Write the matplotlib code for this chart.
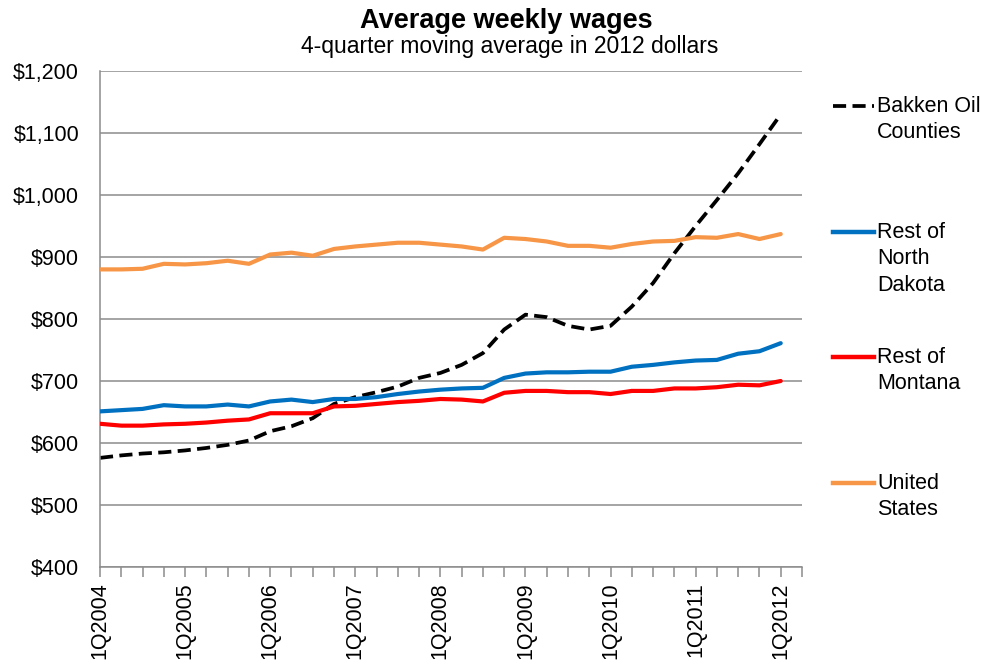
import matplotlib.pyplot as plt
from matplotlib.lines import Line2D
from matplotlib.ticker import FuncFormatter

plt.rcParams['font.family'] = ['Liberation Sans', 'DejaVu Sans']

# quarterly data, 1Q2004 .. 1Q2012
years = list(range(2004, 2013))
quarters = [f'{q}Q{y}' for y in years for q in range(1, 5)][:33]

bakken = [576, 580, 583, 585, 588, 592, 597, 604, 619, 627, 640, 663, 674, 682, 691, 705, 713,
          726, 745, 783, 807, 803, 789, 783, 789, 820, 858, 906, 950, 992, 1035, 1082, 1130]
rest_nd = [651, 653, 655, 661, 659, 659, 662, 659, 667, 670, 666, 671, 671, 674, 679, 683, 686,
           688, 689, 705, 712, 714, 714, 715, 715, 723, 726, 730, 733, 734, 744, 748, 761]
rest_mt = [631, 628, 628, 630, 631, 633, 636, 638, 648, 648, 648, 659, 660, 663, 666, 668, 671,
           670, 667, 681, 684, 684, 682, 682, 679, 684, 684, 688, 688, 690, 694, 693, 700]
us = [880, 880, 881, 889, 888, 890, 894, 889, 904, 907, 902, 913, 917, 920, 923, 923, 920,
      917, 912, 931, 929, 925, 918, 918, 915, 921, 925, 926, 932, 931, 937, 929, 937]

series_names = ['Bakken Oil\nCounties', 'Rest of\nNorth\nDakota', 'Rest of\nMontana', 'United\nStates']
series_colors = ['black', '#0070C0', '#FF0000', '#F79646']

W, H = 992, 665
fig = plt.figure(figsize=(W / 100, H / 100), dpi=100)
ax = fig.add_axes([100 / W, 1 - 567 / H, 702 / W, 496 / H])

x = list(range(len(quarters)))
ax.plot(x, bakken, color='black', lw=2.7, dashes=(3.5, 1.7), zorder=2)
ax.plot(x, rest_nd, color=series_colors[1], lw=3, solid_capstyle='round', zorder=3)
ax.plot(x, rest_mt, color=series_colors[2], lw=3, solid_capstyle='round', zorder=3)
ax.plot(x, us, color=series_colors[3], lw=3, solid_capstyle='round', zorder=3)

ax.set_xlim(0, 33)
ax.set_ylim(400, 1200)
ax.set_yticks(range(400, 1201, 100))
ax.yaxis.set_major_formatter(FuncFormatter(lambda v, p: f'${v:,.0f}'))
ax.grid(axis='y', color='#8c8c8c', lw=1.1)
ax.set_axisbelow(True)

for s in ['top', 'right']:
    ax.spines[s].set_visible(False)
for s in ['left', 'bottom']:
    ax.spines[s].set_color('#8c8c8c')
    ax.spines[s].set_linewidth(1.1)

ax.set_xticks(range(34))
ax.set_xticklabels([q if i % 4 == 0 else '' for i, q in enumerate(quarters)] + [''],
                   rotation=90, fontsize=15.5)
ax.tick_params(axis='x', length=7, color='#8c8c8c', width=1.1, pad=4)
ax.tick_params(axis='y', length=0, pad=15, labelsize=15.5)

fig.text(506 / W, 1 - 21 / H, 'Average weekly wages', ha='center', va='center',
         fontsize=19.5, fontweight='bold')
fig.text(510 / W, 1 - 47 / H, '4-quarter moving average in 2012 dollars', ha='center',
         va='center', fontsize=16.5)

# legend drawn by hand: key next to first line of each label
legend_y = [106, 232, 357, 483]
for name, col, ly in zip(series_names, series_colors, legend_y):
    kw = dict(dashes=(3.5, 1.7), lw=2.7) if col == 'black' else dict(lw=3.2)
    fig.add_artist(Line2D([833 / W, 874 / W], [1 - ly / H, 1 - ly / H], color=col,
                          transform=fig.transFigure, **kw))
    fig.text(877 / W, 1 - (ly - 10) / H, name, ha='left', va='top', fontsize=15.5,
             linespacing=1.33)

fig.savefig('out.png', dpi=100)
